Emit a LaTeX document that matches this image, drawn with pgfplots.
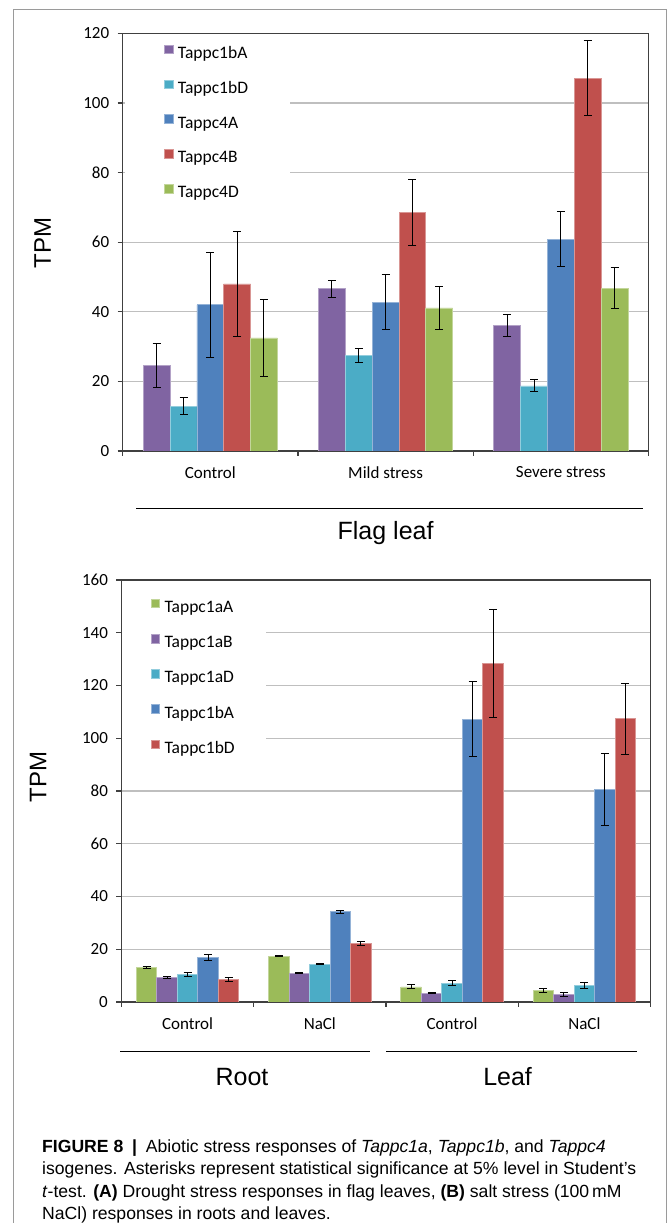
\documentclass[border=0pt]{standalone}
\usepackage{pgfplots}
\pgfplotsset{compat=1.18}
\usepackage{pgfplotstable}
\usepackage{fontspec}
\setmainfont{Carlito}
\newfontfamily\arialf{Liberation Sans}

\definecolor{cpurple}{HTML}{8064A2}
\definecolor{ccyan}{HTML}{4BACC6}
\definecolor{cblue}{HTML}{4F81BD}
\definecolor{cred}{HTML}{C0504D}
\definecolor{cgreen}{HTML}{9BBB59}
\definecolor{gridgray}{HTML}{BFBFBF}
\definecolor{axisgray}{HTML}{404040}
\definecolor{framegray}{HTML}{9A9A9A}

% Panel A data (x = group centre, y = TPM, e = error)
\pgfplotstableread{
x y e
0.5 24.5 6.3
1.5 46.6 2.5
2.5 36.0 3.2
}\tAonebA
\pgfplotstableread{
x y e
0.5 12.9 2.5
1.5 27.4 2.1
2.5 18.7 1.7
}\tAonebD
\pgfplotstableread{
x y e
0.5 42.0 15.0
1.5 42.8 8.0
2.5 60.9 8.0
}\tAfourA
\pgfplotstableread{
x y e
0.5 48.0 15.1
1.5 68.5 9.6
2.5 107.1 10.7
}\tAfourB
\pgfplotstableread{
x y e
0.5 32.5 11.0
1.5 41.1 6.1
2.5 46.8 5.8
}\tAfourD

% Panel B data
\pgfplotstableread{
x y e
0.5 13.0 0.3
1.5 17.4 0.2
2.5 5.7 0.75
3.5 4.5 0.8
}\tBoneaA
\pgfplotstableread{
x y e
0.5 9.3 0.4
1.5 10.9 0.2
2.5 3.4 0.3
3.5 2.8 0.7
}\tBoneaB
\pgfplotstableread{
x y e
0.5 10.4 0.6
1.5 14.3 0.2
2.5 7.1 1.0
3.5 6.3 1.1
}\tBoneaD
\pgfplotstableread{
x y e
0.5 16.9 1.1
1.5 34.2 0.5
2.5 107.2 14.2
3.5 80.6 13.8
}\tBonebA
\pgfplotstableread{
x y e
0.5 8.5 0.8
1.5 22.2 0.6
2.5 128.3 20.5
3.5 107.4 13.4
}\tBonebD

\pgfplotsset{
  mybar/.style={fill=#1, draw=#1!60!white, line width=0.7pt},
  eb/.style={error bars/.cd, y dir=both, y explicit,
    error bar style={black, line width=1pt},
    error mark options={black, rotate=90, mark size=4pt, line width=1pt}},
  common/.style={
    scale only axis, anchor=south west,
    ymin=0, ybar=0pt,
    axis line style={draw=axisgray, line width=1.4pt},
    tick style={draw=axisgray, line width=1.2pt},
    tick align=outside, major tick length=5pt,
    xtick pos=left, ytick pos=left,
    ymajorgrids, grid style={draw=gridgray, line width=1.2pt},
    tick label style={font=\fontsize{17}{20}\selectfont},
    /pgf/number format/assume math mode=true,
    yticklabel style={xshift=-5pt},
    extra x tick style={major tick length=0pt, xticklabel style={yshift=-12pt}},
    legend cell align=left,
    legend image code/.code={\fill[##1] (0pt,0.5pt) rectangle (8.5pt,9pt);},
  },
}

\begin{document}
\begin{tikzpicture}
\useasboundingbox (0,0) rectangle (668pt,1223pt);
% frame
\draw[framegray, line width=1pt] (13.3pt,-5pt) -- (13.3pt,1213pt) -- (666pt,1213pt) -- (666pt,-5pt);

% ---------- Panel A ----------
\begin{axis}[common,
  at={(122.7pt,772pt)}, width=525.8pt, height=417.7pt,
  xmin=0, xmax=3, ymax=120, bar width=0.153,
  xtick={0,1,2,3}, xticklabels={,,,},
  extra x ticks={0.5,1.5,2.5},
  extra x tick labels={Control, Mild stress, Severe stress},
  ytick={0,20,...,120},
  legend style={at={(0.0044,0.9919)}, anchor=north west, draw=none, fill=white,
    inner xsep=39pt, inner ysep=8pt, row sep=17.2pt,
    font=\fontsize{17.5}{20}\selectfont,
    /tikz/every odd column/.append style={column sep=2pt},
    nodes={inner xsep=2.5pt, inner ysep=0pt, text height=12.5pt, text depth=4pt}},
]
\addplot[mybar=cpurple, eb] table[x=x, y=y, y error=e]{\tAonebA};
\addlegendentry{Tappc1bA}
\addplot[mybar=ccyan, eb] table[x=x, y=y, y error=e]{\tAonebD};
\addlegendentry{Tappc1bD}
\addplot[mybar=cblue, eb] table[x=x, y=y, y error=e]{\tAfourA};
\addlegendentry{Tappc4A}
\addplot[mybar=cred, eb] table[x=x, y=y, y error=e]{\tAfourB};
\addlegendentry{Tappc4B}
\addplot[mybar=cgreen, eb] table[x=x, y=y, y error=e]{\tAfourD};
\addlegendentry{Tappc4D}
\end{axis}

\node[rotate=90, font=\arialf\fontsize{24}{28}\selectfont] at (42.6pt,980pt) {TPM};
\draw[black, line width=1.2pt] (136pt,714.7pt) -- (643pt,714.7pt);
\node[font=\arialf\fontsize{25}{30}\selectfont] at (385.6pt,689.5pt) {Flag leaf};

% ---------- Panel B ----------
\begin{axis}[common,
  at={(121.4pt,221pt)}, width=529.1pt, height=422pt,
  xmin=0, xmax=4, ymax=160, bar width=0.155,
  xtick={0,1,2,3,4}, xticklabels={,,,,},
  extra x ticks={0.5,1.5,2.5,3.5},
  extra x tick labels={Control, NaCl, Control, NaCl},
  ytick={0,20,...,160},
  legend style={at={(0.0011,0.9794)}, anchor=north west, draw=none, fill=white,
    inner xsep=28.7pt, inner ysep=10pt, row sep=17.6pt,
    font=\fontsize{17.5}{20}\selectfont,
    /tikz/every odd column/.append style={column sep=2pt},
    nodes={inner xsep=2.5pt, inner ysep=0pt, text height=12.5pt, text depth=4pt}},
]
\addplot[mybar=cgreen, eb] table[x=x, y=y, y error=e]{\tBoneaA};
\addlegendentry{Tappc1aA}
\addplot[mybar=cpurple, eb] table[x=x, y=y, y error=e]{\tBoneaB};
\addlegendentry{Tappc1aB}
\addplot[mybar=ccyan, eb] table[x=x, y=y, y error=e]{\tBoneaD};
\addlegendentry{Tappc1aD}
\addplot[mybar=cblue, eb] table[x=x, y=y, y error=e]{\tBonebA};
\addlegendentry{Tappc1bA}
\addplot[mybar=cred, eb] table[x=x, y=y, y error=e]{\tBonebD};
\addlegendentry{Tappc1bD}
\end{axis}

\node[rotate=90, font=\arialf\fontsize{24}{28}\selectfont] at (38pt,446.3pt) {TPM};
\draw[black, line width=1.2pt] (120pt,171.3pt) -- (370pt,171.3pt);
\draw[black, line width=1.2pt] (386.4pt,171.3pt) -- (637pt,171.3pt);
\node[font=\arialf\fontsize{25}{30}\selectfont] at (242pt,146.3pt) {Root};
\node[font=\arialf\fontsize{25}{30}\selectfont] at (507.6pt,146.3pt) {Leaf};

% ---------- Caption ----------
\begin{scope}[every node/.style={anchor=base west, inner sep=0pt, font=\arialf\fontsize{17.6}{21}\selectfont}]
\node at (42pt,70.5pt) {\textbf{FIGURE 8}\enspace\textbf{|}\enspace Abiotic stress responses of \textit{Tappc1a}, \textit{Tappc1b}, and \textit{Tappc4}};
\node at (42pt,48pt) {isogenes. Asterisks represent statistical significance at 5\% level in Student’s};
\node at (42pt,25.5pt) {\textit{t}-test. \textbf{(A)} Drought stress responses in flag leaves, \textbf{(B)} salt stress (100\,mM};
\node at (42pt,3pt) {NaCl) responses in roots and leaves.};
\end{scope}
\end{tikzpicture}
\end{document}
